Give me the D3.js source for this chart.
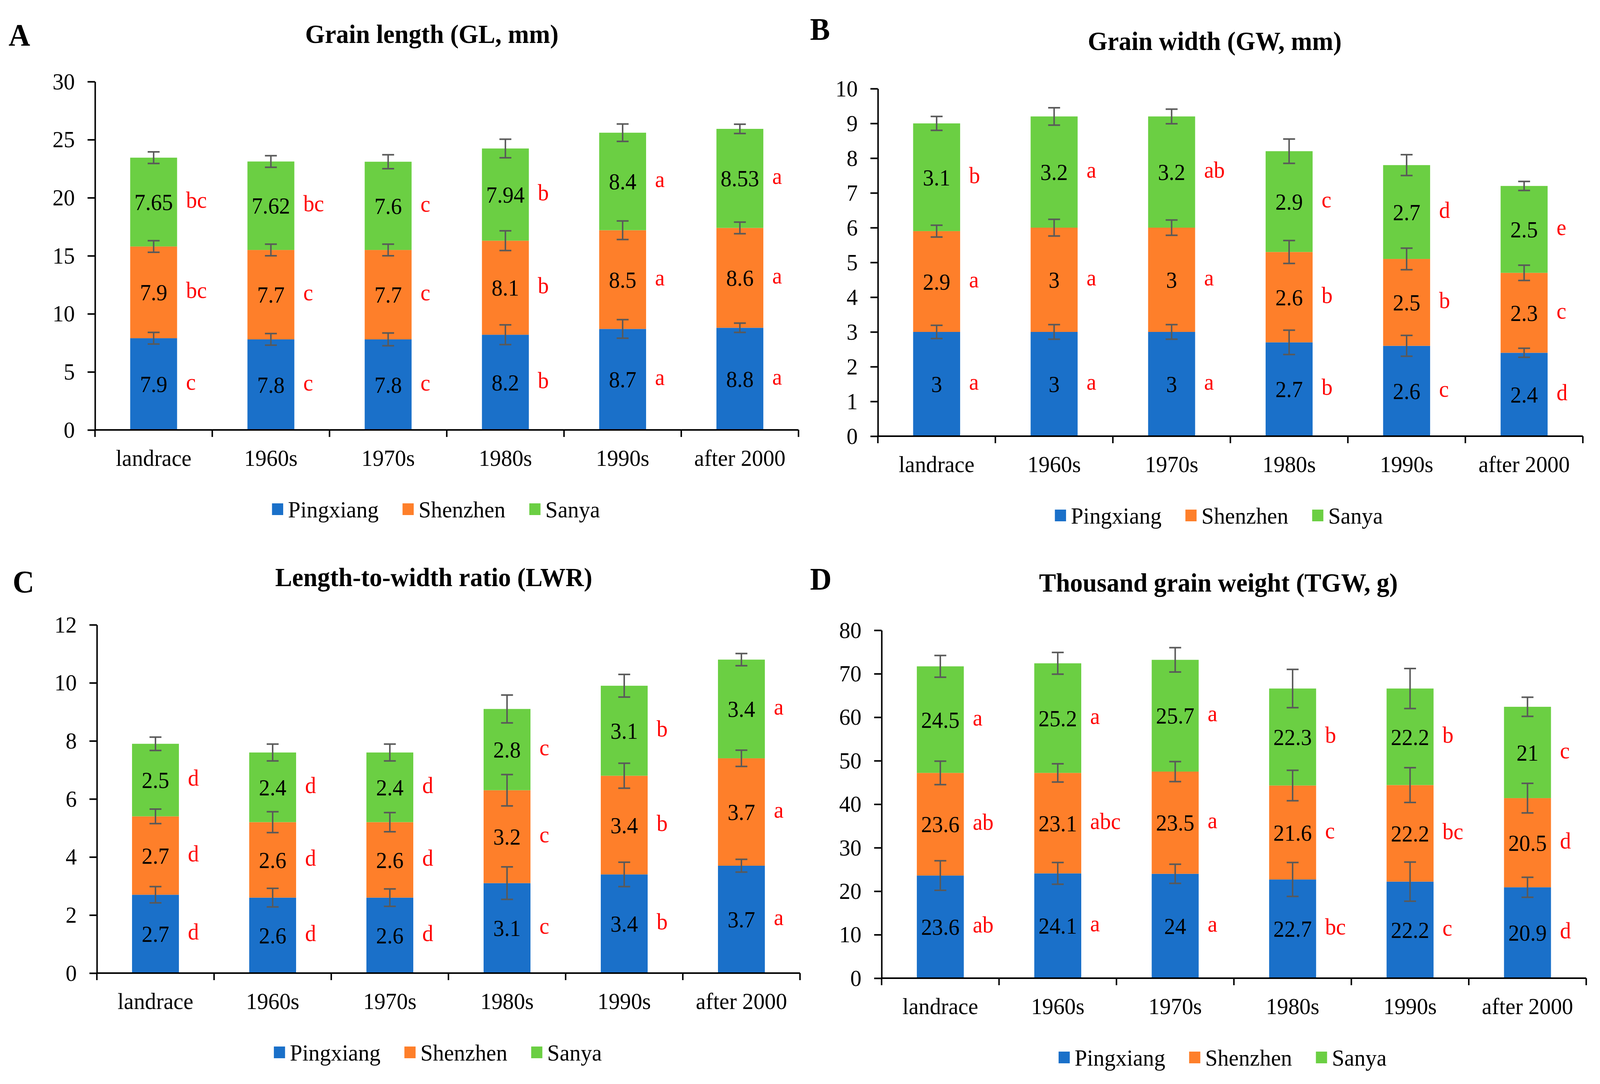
<!DOCTYPE html>
<html lang='en'>
  <head>
    <meta charset='utf-8'>
    <style type='text/css'>
      html, body {margin: 0; padding: 0; width: 100%; height: 100%; overflow: hidden; background-color: #fff;}
      svg {display: block; width: 100vw; height: 100vh;}
      text {font-family: 'Liberation Serif', 'Times New Roman', serif;}
    </style>
  </head>
  <body>
    <svg id='chart' viewBox='0 0 4294 2776' preserveAspectRatio='none'
         font-family="'Liberation Serif', 'Times New Roman', serif"></svg>

    <script src='https://d3js.org/d3.v7.min.js'></script>
    <script type='text/javascript'>
        // categories and series
        var categories = ["landrace", "1960s", "1970s", "1980s", "1990s", "after 2000"];
        var seriesNames = ["Pingxiang", "Shenzhen", "Sanya"];
        var seriesColors = ["#1a70c9", "#fe7f2a", "#6bcf43"];

        // A: grain length
        var glPingxiang = [7.9, 7.8, 7.8, 8.2, 8.7, 8.8];
        var glShenzhen  = [7.9, 7.7, 7.7, 8.1, 8.5, 8.6];
        var glSanya     = [7.65, 7.62, 7.6, 7.94, 8.4, 8.53];
        var glErrPingxiang = [0.5, 0.5, 0.55, 0.85, 0.8, 0.4];
        var glErrShenzhen  = [0.5, 0.5, 0.5, 0.85, 0.8, 0.5];
        var glErrSanya     = [0.5, 0.5, 0.6, 0.8, 0.75, 0.4];
        var glLetPingxiang = ["c", "c", "c", "b", "a", "a"];
        var glLetShenzhen  = ["bc", "c", "c", "b", "a", "a"];
        var glLetSanya     = ["bc", "bc", "c", "b", "a", "a"];
        var glTicks = [0, 5, 10, 15, 20, 25, 30];

        // B: grain width
        var gwPingxiang = [3, 3, 3, 2.7, 2.6, 2.4];
        var gwShenzhen  = [2.9, 3, 3, 2.6, 2.5, 2.3];
        var gwSanya     = [3.1, 3.2, 3.2, 2.9, 2.7, 2.5];
        var gwErrPingxiang = [0.19, 0.21, 0.21, 0.35, 0.3, 0.13];
        var gwErrShenzhen  = [0.17, 0.24, 0.22, 0.33, 0.31, 0.22];
        var gwErrSanya     = [0.2, 0.25, 0.21, 0.35, 0.3, 0.13];
        var gwLetPingxiang = ["a", "a", "a", "b", "c", "d"];
        var gwLetShenzhen  = ["a", "a", "a", "b", "b", "c"];
        var gwLetSanya     = ["b", "a", "ab", "c", "d", "e"];
        var gwTicks = [0, 1, 2, 3, 4, 5, 6, 7, 8, 9, 10];

        // C: length-to-width ratio
        var lwrPingxiang = [2.7, 2.6, 2.6, 3.1, 3.4, 3.7];
        var lwrShenzhen  = [2.7, 2.6, 2.6, 3.2, 3.4, 3.7];
        var lwrSanya     = [2.5, 2.4, 2.4, 2.8, 3.1, 3.4];
        var lwrErrPingxiang = [0.28, 0.32, 0.3, 0.56, 0.42, 0.22];
        var lwrErrShenzhen  = [0.25, 0.36, 0.33, 0.54, 0.43, 0.28];
        var lwrErrSanya     = [0.23, 0.29, 0.29, 0.48, 0.39, 0.21];
        var lwrLetPingxiang = ["d", "d", "d", "c", "b", "a"];
        var lwrLetShenzhen  = ["d", "d", "d", "c", "b", "a"];
        var lwrLetSanya     = ["d", "d", "d", "c", "b", "a"];
        var lwrTicks = [0, 2, 4, 6, 8, 10, 12];

        // D: thousand grain weight
        var tgwPingxiang = [23.6, 24.1, 24, 22.7, 22.2, 20.9];
        var tgwShenzhen  = [23.6, 23.1, 23.5, 21.6, 22.2, 20.5];
        var tgwSanya     = [24.5, 25.2, 25.7, 22.3, 22.2, 21];
        var tgwErrPingxiang = [3.4, 2.5, 2.2, 3.9, 4.5, 2.3];
        var tgwErrShenzhen  = [2.7, 2.1, 2.3, 3.5, 4.0, 3.4];
        var tgwErrSanya     = [2.5, 2.5, 2.8, 4.4, 4.6, 2.2];
        var tgwLetPingxiang = ["ab", "a", "a", "bc", "c", "d"];
        var tgwLetShenzhen  = ["ab", "abc", "a", "c", "bc", "d"];
        var tgwLetSanya     = ["a", "a", "a", "b", "b", "c"];
        var tgwTicks = [0, 10, 20, 30, 40, 50, 60, 70, 80];

        var panels = [
          {tag: "A", title: "Grain length (GL, mm)",
           values: [glPingxiang, glShenzhen, glSanya],
           errors: [glErrPingxiang, glErrShenzhen, glErrSanya],
           letters: [glLetPingxiang, glLetShenzhen, glLetSanya],
           ticks: glTicks,
           box: {left: 255, right: 2143, top: 209, bottom: 1101, tagX: 23, tagY: 117}},
          {tag: "B", title: "Grain width (GW, mm)",
           values: [gwPingxiang, gwShenzhen, gwSanya],
           errors: [gwErrPingxiang, gwErrShenzhen, gwErrSanya],
           letters: [gwLetPingxiang, gwLetShenzhen, gwLetSanya],
           ticks: gwTicks,
           box: {left: 2356, right: 4248, top: 227, bottom: 1117, tagX: 2174, tagY: 102}},
          {tag: "C", title: "Length-to-width ratio (LWR)",
           values: [lwrPingxiang, lwrShenzhen, lwrSanya],
           errors: [lwrErrPingxiang, lwrErrShenzhen, lwrErrSanya],
           letters: [lwrLetPingxiang, lwrLetShenzhen, lwrLetSanya],
           ticks: lwrTicks,
           box: {left: 260, right: 2147, top: 1600, bottom: 2492, tagX: 34, tagY: 1517}},
          {tag: "D", title: "Thousand grain weight (TGW, g)",
           values: [tgwPingxiang, tgwShenzhen, tgwSanya],
           errors: [tgwErrPingxiang, tgwErrShenzhen, tgwErrSanya],
           letters: [tgwLetPingxiang, tgwLetShenzhen, tgwLetSanya],
           ticks: tgwTicks,
           box: {left: 2366, right: 4257, top: 1614, bottom: 2505, tagX: 2174, tagY: 1510}}
        ];

        var svg = d3.select("#chart");
        svg.append("rect").attr("width", 4294).attr("height", 2776).attr("fill", "#fff");

        panels.forEach(function(p) {
          var b = p.box;
          var g = svg.append("g");

          // table for the stack
          var rows = categories.map(function(c, i) {
            var r = {cat: c, idx: i};
            seriesNames.forEach(function(s, k) { r[s] = p.values[k][i]; });
            return r;
          });
          var stacked = d3.stack().keys(seriesNames)(rows);

          var x = d3.scaleBand().domain(categories).range([b.left, b.right])
              .paddingInner(0.6).paddingOuter(0.3);
          var xb = d3.scaleBand().domain(categories).range([b.left, b.right]);
          var y = d3.scaleLinear().domain([0, d3.max(p.ticks)]).range([b.bottom, b.top]);

          // bars
          stacked.forEach(function(layer, k) {
            g.append("g").selectAll("rect")
              .data(layer)
              .enter().append("rect")
                .attr("x", function(d) { return x(d.data.cat); })
                .attr("y", function(d) { return y(d[1]); })
                .attr("width", x.bandwidth())
                .attr("height", function(d) { return y(d[0]) - y(d[1]); })
                .attr("fill", seriesColors[k]);
          });

          // error bars
          stacked.forEach(function(layer, k) {
            var eg = g.append("g").attr("stroke", "#595959").attr("stroke-width", 4);
            layer.forEach(function(d, i) {
              var cx = x(d.data.cat) + x.bandwidth() / 2;
              var e = p.errors[k][i];
              eg.append("line").attr("x1", cx).attr("x2", cx)
                .attr("y1", y(d[1] + e)).attr("y2", y(d[1] - e));
              [d[1] + e, d[1] - e].forEach(function(v) {
                eg.append("line").attr("x1", cx - 16).attr("x2", cx + 16)
                  .attr("y1", y(v)).attr("y2", y(v));
              });
            });
          });

          // value labels and letters
          stacked.forEach(function(layer, k) {
            layer.forEach(function(d, i) {
              var cx = x(d.data.cat) + x.bandwidth() / 2;
              var cy = y((d[0] + d[1]) / 2);
              g.append("text").attr("x", cx).attr("y", cy).attr("dy", "0.35em")
                .attr("text-anchor", "middle").attr("font-size", 59).attr("fill", "#000")
                .text(String(p.values[k][i]));
              g.append("text").attr("x", x(d.data.cat) + x.bandwidth() + 24).attr("y", cy - 6)
                .attr("dy", "0.35em").attr("font-size", 59).attr("fill", "#ff0000")
                .text(p.letters[k][i]);
            });
          });

          // y axis
          var ya = g.append("g").attr("transform", "translate(" + b.left + ",0)")
              .call(d3.axisLeft(y).tickValues(p.ticks).tickFormat(function(d) { return d; })
                .tickSize(20).tickSizeOuter(0).tickPadding(34));
          ya.selectAll("path, line").attr("stroke", "#000").attr("stroke-width", 4);
          ya.selectAll("text").attr("font-size", 60).attr("fill", "#000")
              .attr("font-family", "'Liberation Serif', 'Times New Roman', serif");

          // x axis line with boundary ticks
          var xg = g.append("g").attr("stroke", "#000").attr("stroke-width", 4);
          xg.append("line").attr("x1", b.left).attr("x2", b.right)
            .attr("y1", y(0)).attr("y2", y(0));
          var bounds = categories.map(function(c) { return xb(c); }).concat([b.right]);
          xg.selectAll(".xt").data(bounds).enter().append("line")
            .attr("x1", function(d) { return d; }).attr("x2", function(d) { return d; })
            .attr("y1", y(0)).attr("y2", y(0) + 18);

          g.selectAll(".xl").data(categories).enter().append("text")
            .attr("x", function(d) { return x(d) + x.bandwidth() / 2; })
            .attr("y", b.bottom + 92)
            .attr("text-anchor", "middle").attr("font-size", 60).attr("fill", "#000")
            .text(function(d) { return d; });

          // title and panel tag
          g.append("text").attr("x", b.left + 904).attr("y", b.top - 99)
            .attr("text-anchor", "middle").attr("font-size", 68).attr("font-weight", "bold")
            .text(p.title);
          g.append("text").attr("x", b.tagX).attr("y", b.tagY)
            .attr("font-size", 80).attr("font-weight", "bold").text(p.tag);

          // legend
          var lg = g.append("g")
              .attr("transform", "translate(" + (b.left + 475) + "," + (b.bottom + 203) + ")");
          var lx = 0;
          seriesNames.forEach(function(s, k) {
            var it = lg.append("g").attr("transform", "translate(" + lx + ",0)");
            it.append("rect").attr("x", 0).attr("y", -15).attr("width", 30).attr("height", 30)
              .attr("fill", seriesColors[k]);
            var t = it.append("text").attr("x", 43).attr("y", 0).attr("dy", "0.35em")
              .attr("font-size", 60).attr("fill", "#000").text(s);
            lx += 43 + t.node().getComputedTextLength() + 64;
          });
        });
    </script>
  </body>
</html>
